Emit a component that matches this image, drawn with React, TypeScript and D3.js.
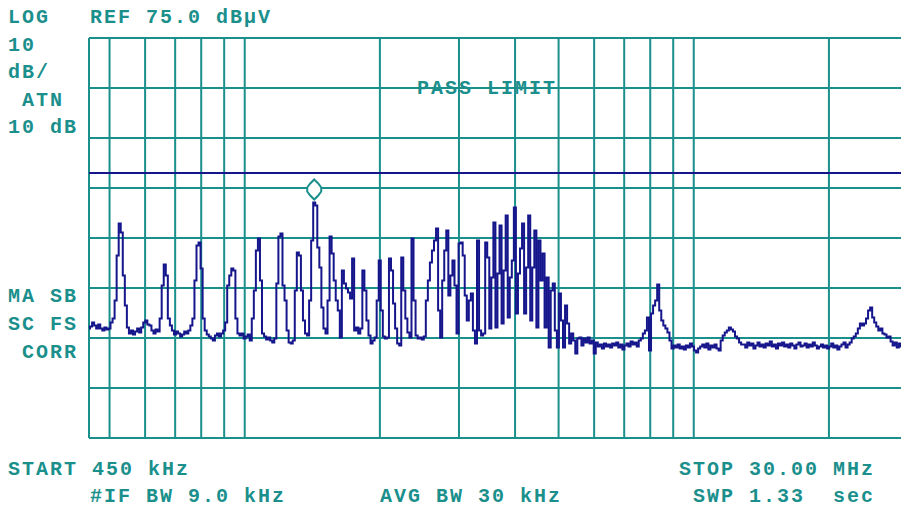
import React, { useEffect, useRef } from "react";
import * as d3 from "d3";

// analyzer settings
const startMHz = 0.45;
const stopMHz = 30;
const refLevel = 75;
const bottomLevel = -5;
const limitDb = 48;

// vertical graticule (log frequency) and horizontal graticule (10 dB/div)
const freqGrid = [0.5, 0.6, 0.7, 0.8, 0.9, 1, 2, 3, 4, 5, 6, 7, 8, 9, 10, 20];
const levelGrid = [75, 65, 55, 45, 35, 25, 15, 5, -5];

// 401-point sweep, dBuV
const trace = [
  16.9, 17.3, 18.1, 17.5, 16.9, 17.7, 16.9, 16.5, 17.1, 16.7,
  16.9, 18.1, 18.9, 22.5, 31.5, 37.9, 36.1, 27.5, 21.5, 17.1,
  15.9, 16.5, 15.7, 16.3, 16.9, 16.1, 17.1, 18.1, 18.5, 17.7,
  17.5, 16.5, 15.9, 16.7, 16.3, 18.9, 25.5, 29.7, 27.5, 18.9,
  17.5, 16.5, 15.7, 16.3, 15.9, 15.3, 15.7, 16.3, 15.9, 16.5,
  17.5, 18.9, 26.5, 33.5, 34.1, 28.9, 18.9, 16.5, 15.7, 15.3,
  14.9, 14.5, 15.5, 15.9, 15.3, 15.9, 16.5, 18.1, 25.5, 27.5,
  28.9, 28.5, 18.9, 15.9, 15.5, 15.9, 14.9, 15.3, 15.7, 14.5,
  18.9, 24.5, 32.5, 34.9, 26.5, 15.9, 15.3, 14.7, 15.1, 14.5,
  14.1, 14.9, 25.9, 35.3, 35.9, 25.5, 22.5, 16.5, 14.1, 13.9,
  14.5, 24.5, 32.1, 31.5, 24.5, 18.5, 15.9, 15.5, 22.5, 34.5,
  42.1, 41.5, 33.1, 29.1, 21.1, 16.9, 15.9, 22.5, 35.3, 31.9,
  26.5, 22.5, 20.5, 15.1, 28.5, 25.9, 24.9, 24.1, 22.9, 30.9,
  16.5, 17.1, 15.9, 16.9, 28.5, 24.5, 18.5, 15.5, 13.9, 14.5,
  15.1, 22.5, 30.5, 20.5, 15.3, 14.9, 15.1, 30.9, 28.5, 21.9,
  16.9, 13.9, 13.5, 31.1, 24.5, 18.9, 16.1, 15.1, 34.9, 22.5,
  15.5, 14.9, 15.1, 14.7, 15.3, 22.5, 26.5, 30.1, 32.5, 34.5,
  36.9, 20.5, 15.1, 26.5, 32.5, 36.5, 23.5, 27.5, 30.5, 25.5,
  15.9, 33.9, 34.1, 31.5, 23.5, 18.5, 22.5, 23.9, 16.5, 13.9,
  34.5, 16.5, 15.5, 15.9, 34.1, 31.1, 16.9, 27.1, 38.1, 17.1,
  27.9, 37.5, 17.9, 28.5, 39.5, 19.1, 27.1, 30.5, 41.1, 19.9,
  27.9, 32.9, 37.9, 19.9, 29.1, 39.5, 18.5, 29.1, 36.5, 17.1,
  34.5, 26.5, 31.9, 17.1, 27.1, 13.1, 24.5, 25.9, 16.5, 13.1,
  23.9, 18.5, 13.1, 21.5, 17.9, 13.9, 15.9, 14.5, 11.9, 14.9,
  15.1, 13.5, 14.9, 14.1, 15.1, 13.9, 14.5, 11.9, 14.1, 13.3,
  13.7, 12.9, 13.9, 13.3, 13.7, 13.1, 13.9, 13.5, 14.1, 13.1,
  13.7, 12.7, 13.5, 13.9, 13.3, 14.3, 13.7, 14.1, 13.3, 14.5,
  14.9, 15.9, 16.5, 19.1, 12.5, 19.9, 21.5, 22.5, 25.7, 20.5,
  18.5, 17.5, 16.9, 16.1, 14.5, 12.9, 13.5, 13.1, 13.7, 12.9,
  13.3, 12.7, 13.5, 13.1, 13.9, 13.3, 12.5, 12.1, 12.9, 13.3,
  13.7, 13.1, 13.9, 12.7, 13.5, 13.1, 13.7, 12.9, 12.5, 14.5,
  15.5, 16.1, 16.5, 17.1, 16.7, 16.3, 15.3, 14.9, 14.1, 13.7,
  13.7, 13.1, 14.1, 13.5, 13.9, 12.9, 13.5, 14.1, 13.3, 13.7,
  13.1, 13.9, 13.5, 14.3, 13.3, 13.7, 12.9, 13.9, 13.5, 14.1,
  13.3, 13.7, 13.1, 13.9, 13.5, 12.9, 13.7, 14.1, 13.3, 13.5,
  13.9, 13.1, 13.7, 13.3, 14.1, 13.5, 12.9, 13.3, 13.7, 13.1,
  13.5, 12.9, 13.3, 13.9, 13.1, 13.5, 12.7, 13.3, 13.7, 14.1,
  13.1, 13.7, 14.1, 14.9, 15.3, 15.9, 16.9, 17.9, 17.5, 17.9,
  18.9, 20.5, 21.1, 19.1, 18.1, 17.3, 16.5, 16.9, 15.9, 15.7,
  15.1, 15.3, 14.3, 13.5, 14.1, 13.1, 13.9, 13.3, 13.7, 13.1,
  13.5,
];

// screen annotations (non-breaking spaces keep the fixed-column layout)
const topLeftLabels = ["LOG", "10", "dB/", "\u00a0ATN", "10 dB"];
const sideLabels = ["MA SB", "SC FS", "\u00a0CORR"];

const width = 901;
const height = 508;
const teal = "#1a8f8c";
const navy = "#16168c";

export default function App() {
  const ref = useRef<SVGSVGElement>(null);

  useEffect(() => {
    const svg = d3.select(ref.current);
    svg.selectAll("*").remove();

    const x = d3.scaleLog().domain([startMHz, stopMHz]).range([89, 908]);
    const y = d3.scaleLinear().domain([bottomLevel, refLevel]).range([438, 38]);
    // sweep index -> frequency (points are evenly spaced on the log axis)
    const sweep = d3.scaleLog().domain([startMHz, stopMHz]).range([0, trace.length - 1]);

    svg.append("rect").attr("width", width).attr("height", height).attr("fill", "#fff");

    svg.append("clipPath").attr("id", "plot")
      .append("rect").attr("x", 88).attr("y", 30).attr("width", 813).attr("height", 420);

    const grid = svg.append("g").attr("stroke", teal).attr("stroke-width", 2);

    // horizontal lines
    grid.selectAll("line.h")
      .data(levelGrid)
      .enter()
      .append("line")
      .attr("class", "h")
      .attr("x1", x(startMHz))
      .attr("x2", x(stopMHz))
      .attr("y1", (d) => y(d))
      .attr("y2", (d) => y(d));

    // vertical lines, incl. left edge
    grid.selectAll("line.v")
      .data([startMHz, ...freqGrid])
      .enter()
      .append("line")
      .attr("class", "v")
      .attr("x1", (d) => x(d))
      .attr("x2", (d) => x(d))
      .attr("y1", y(refLevel))
      .attr("y2", y(bottomLevel));

    // limit line
    svg.append("line")
      .attr("x1", x(startMHz))
      .attr("x2", x(stopMHz))
      .attr("y1", y(limitDb))
      .attr("y2", y(limitDb))
      .attr("stroke", navy)
      .attr("stroke-width", 2);

    const line = d3.line<number>()
      .x((d, i) => x(sweep.invert(i)))
      .y((d) => y(d))
      .curve(d3.curveStep);

    svg.append("path")
      .datum(trace)
      .attr("clip-path", "url(#plot)")
      .attr("d", line)
      .attr("fill", "none")
      .attr("stroke", navy)
      .attr("stroke-width", 2);

    // marker on the highest point
    const peak = d3.maxIndex(trace);
    svg.append("path")
      .attr("transform", `translate(${x(sweep.invert(peak))},${y(trace[peak]) - 13})`)
      .attr("d", "M0,-10 L4,-6 L7,-2 L7,2 L4,6 L0,10 L-4,6 L-7,2 L-7,-2 L-4,-6 Z")
      .attr("fill", "#fff")
      .attr("stroke", teal)
      .attr("stroke-width", 2);

    const txt = svg.append("g")
      .attr("fill", teal)
      .attr("font-family", "Liberation Mono, DejaVu Sans Mono, monospace")
      .attr("font-size", 20)
      .attr("font-weight", "bold")
      .attr("letter-spacing", 2);

    txt.selectAll("text.tl")
      .data(topLeftLabels)
      .enter()
      .append("text")
      .attr("x", 8)
      .attr("y", (d, i) => [23, 51, 78, 106, 133][i])
      .text((d) => d);

    txt.selectAll("text.side")
      .data(sideLabels)
      .enter()
      .append("text")
      .attr("x", 8)
      .attr("y", (d, i) => 302 + i * 28)
      .text((d) => d);

    txt.append("text").attr("x", 90).attr("y", 23).text(`REF ${refLevel.toFixed(1)} dBµV`);
    txt.append("text").attr("x", 417).attr("y", 94).text("PASS LIMIT");
    txt.append("text").attr("x", 8).attr("y", 475).text("START 450 kHz");
    txt.append("text").attr("x", 90).attr("y", 502).text("#IF BW 9.0 kHz");
    txt.append("text").attr("x", 380).attr("y", 502).text("AVG BW 30 kHz");
    txt.append("text").attr("x", 679).attr("y", 475).text("STOP 30.00 MHz");
    txt.append("text").attr("x", 693).attr("y", 502).text("SWP 1.33\u00a0\u00a0sec");
  }, []);

  return (
    <svg
      ref={ref}
      width={width}
      height={height}
      style={{ position: "absolute", left: 0, top: 0 }}
    />
  );
}
